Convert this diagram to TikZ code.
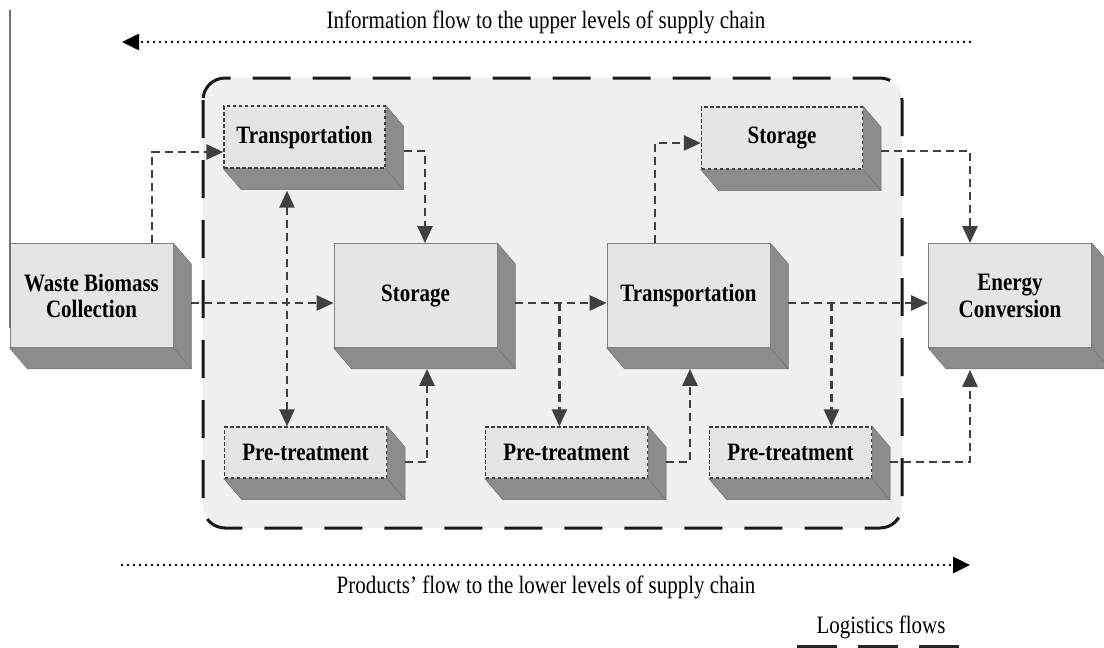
\documentclass[tikz,border=0pt]{standalone}
\usepackage{fontspec}
\setmainfont{Liberation Serif}[FakeStretch=0.84]
\usetikzlibrary{arrows.meta,calc,backgrounds}

\begin{document}
\begin{tikzpicture}[x=1pt, y=-1pt, >={Triangle[length=17pt,width=15pt]},
  bigbox/.style={rectangle, draw=black!50, line width=0.8pt, fill=black!10, minimum width=163pt, minimum height=104pt, inner sep=0pt, align=center, font=\fontsize{25}{26}\selectfont\bfseries},
  smallbox/.style={bigbox, draw=black!75, dash pattern=on 3.5pt off 2.5pt, line width=1.4pt, minimum width=161pt, minimum height=62pt},
  prebox/.style={smallbox, minimum width=162pt, minimum height=51pt},
  depth/.style={fill=black!45, draw=black!55, line width=0.5pt},
  container/.style={draw=black!90, line width=3pt, dash pattern=on 38pt off 22pt, rounded corners=22pt, fill=black!6},
  flow/.style={draw=black!75, line width=2.6pt, dash pattern=on 8pt off 5pt, ->},
  infoflow/.style={draw=black, line width=2.6pt, line cap=round, dash pattern=on 0pt off 6pt, -{Triangle[length=17pt,width=16pt]}},
  legendline/.style={draw=black!85, line width=4pt, dash pattern=on 40pt off 21pt},
  note/.style={font=\fontsize{25}{26}\selectfont, anchor=base}]

\useasboundingbox (0,0) rectangle (1104,648);

% supply chain stages
\node[bigbox] (waste) at (91.5,295.5) {Waste Biomass\\Collection};
\node[bigbox] (storage) at (415.5,295.5) {Storage};
\node[bigbox] (transM) at (688.5,295.5) {Transportation};
\node[bigbox, font=\fontsize{25}{27}\selectfont\bfseries] (energy) at (1010,295.5) {Energy\\Conversion};
\node[smallbox] (transT) at (304.5,137) {Transportation};
\node[smallbox] (storT) at (782,138) {Storage};
\node[prebox] (preL) at (305.5,452.5) {Pre-treatment};
\node[prebox] (preM) at (566.5,452.5) {Pre-treatment};
\node[prebox] (preR) at (790.5,452.5) {Pre-treatment};

\begin{scope}[on background layer]
  \draw[container] (203,78) rectangle (902,528);
  \foreach \n in {waste,storage,transM,energy,transT,storT,preL,preM,preR} {
    \filldraw[depth] (\n.north east) -- ++(18,21) -- ($(\n.south east)+(18,21)$) -- ($(\n.south west)+(18,21)$) -- (\n.south west) -- (\n.south east) -- cycle;
    \draw[depth, fill=none] (\n.south east) -- ++(18,21);
  }
\end{scope}

\draw[black!55, line width=1.2pt] (10,10) -- (10,328);

% logistics flows
\draw[flow] ($(waste.north)+(60.5,0)$) |- ($(transT.west)+(0,15)$);
\draw[flow] ($(waste.east)+(18,7.5)$) -- ($(storage.west)+(0,7.5)$);
\draw[flow, <->] ($(transT.south)+(-17.5,22)$) -- ($(preL.north)+(-18.5,0)$);
\draw[flow] ($(transT.east)+(18,14)$) -| ($(storage.north)+(9.5,0)$);
\draw[flow] ($(preL.east)+(18,9.5)$) -| ($(storage.south)+(11.5,21)$);
\draw[flow] ($(storage.east)+(18,7.5)$) -- ($(transM.west)+(0,7.5)$);
\coordinate (j1) at ($(storage.east)+(62,7.5)$);
\draw[flow] (j1) -- (j1 |- preM.north);
\draw[flow] ($(preM.east)+(18,9.5)$) -| ($(transM.south)+(1.5,21)$);
\draw[flow] ($(transM.north)+(-33.5,0)$) |- ($(storT.west)+(0,5)$);
\draw[flow] ($(storT.east)+(18,13)$) -| ($(energy.north)+(-40,0)$);
\draw[flow] ($(transM.east)+(18,7.5)$) -- ($(energy.west)+(0,7.5)$);
\coordinate (j2) at ($(transM.east)+(61,7.5)$);
\draw[flow] (j2) -- (j2 |- preR.north);
\draw[flow] ($(preR.east)+(18,9.5)$) -| ($(energy.south)+(-40,22)$);

% information and products
\node[note] (info) at (546,28) {Information flow to the upper levels of supply chain};
\coordinate (infoR) at (970,42);
\coordinate (infoL) at (122,42);
\draw[infoflow] (infoR) -- (infoL);
\coordinate (prodL) at (122,565);
\coordinate (prodR) at (970,565);
\draw[infoflow] (prodL) -- (prodR);
\node[note] (prod) at (546,593) {Products’ flow to the lower levels of supply chain};

% legend
\node[note] (legend) at (881,633) {Logistics flows};
\coordinate (legL) at (797,647);
\coordinate (legR) at (960,647);
\draw[legendline] (legL) -- (legR);

\end{tikzpicture}
\end{document}
